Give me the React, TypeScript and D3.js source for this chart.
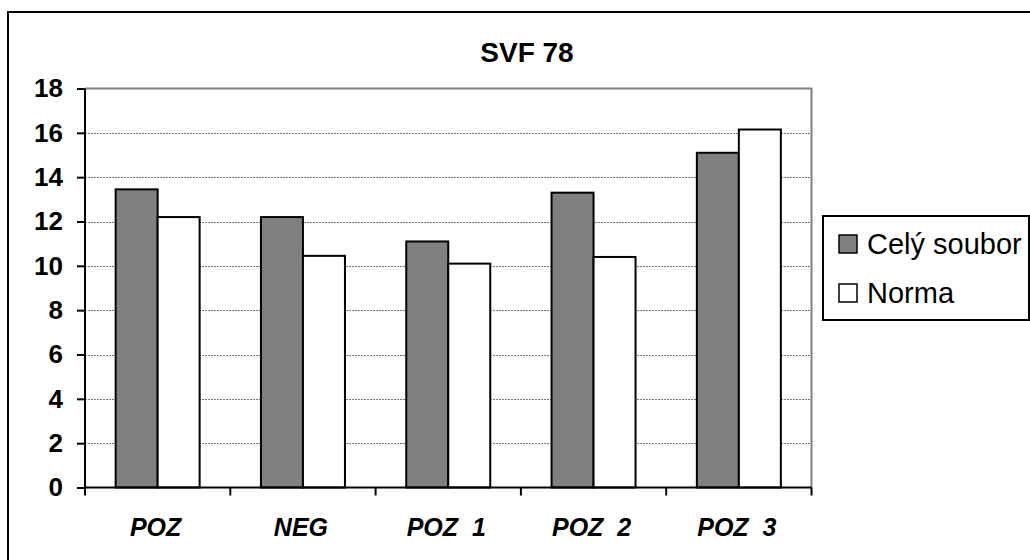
import { useEffect, useRef } from "react"
import * as d3 from "d3"

const categories = ["POZ", "NEG", "POZ 1", "POZ 2", "POZ 3"]
const seriesNames = ["Celý soubor", "Norma"]
const celySoubor = [13.45, 12.2, 11.1, 13.3, 15.1]
const norma = [12.2, 10.45, 10.1, 10.4, 16.15]
const seriesFill = ["#808080", "#ffffff"]
const yTicks = [0, 2, 4, 6, 8, 10, 12, 14, 16, 18]
const title = "SVF 78"

export default function App() {
    const ref = useRef<SVGSVGElement | null>(null)

    useEffect(() => {
        const svg = d3.select(ref.current)
        svg.selectAll("*").remove()

        const font = "Liberation Sans, Arial, sans-serif"
        const left = 85
        const right = 811.5
        const top = 88.5
        const bottom = 487.5

        // outer frame, runs off the right and bottom edges
        svg.append("rect")
            .attr("x", 8)
            .attr("y", 12)
            .attr("width", 1100)
            .attr("height", 700)
            .attr("fill", "#fff")
            .attr("stroke", "#000")
            .attr("stroke-width", 2)

        svg.append("text")
            .attr("x", 527)
            .attr("y", 62)
            .attr("text-anchor", "middle")
            .attr("font-family", font)
            .attr("font-weight", "bold")
            .attr("font-size", 28)
            .text(title)

        const x = d3.scaleBand<string>()
            .domain(categories)
            .range([left, right])

        const xInner = d3.scaleBand<string>()
            .domain(seriesNames)
            .range([0, x.bandwidth()])
            .paddingInner(0)
            .paddingOuter(0.73)

        const y = d3.scaleLinear()
            .domain([0, 18])
            .range([bottom, top])

        // gridlines
        svg.append("g")
            .selectAll("line")
            .data(yTicks.filter(t => t > 0 && t < 18))
            .join("line")
            .attr("x1", left)
            .attr("x2", right)
            .attr("y1", d => Math.round(y(d)) + 0.5)
            .attr("y2", d => Math.round(y(d)) + 0.5)
            .attr("stroke", "#777")
            .attr("stroke-width", 1)
            .attr("stroke-dasharray", "2,1")

        // plot area border top + right
        svg.append("path")
            .attr("d", `M${left},${y(18)}H${right}V${bottom}`)
            .attr("fill", "none")
            .attr("stroke", "#808080")
            .attr("stroke-width", 2)

        const seriesData = [celySoubor, norma]
        seriesNames.forEach((name, si) => {
            svg.append("g")
                .selectAll("rect")
                .data(categories)
                .join("rect")
                .attr("x", c => (x(c) ?? 0) + (xInner(name) ?? 0))
                .attr("y", (c, i) => y(seriesData[si][i]))
                .attr("width", xInner.bandwidth())
                .attr("height", (c, i) => bottom - y(seriesData[si][i]))
                .attr("fill", seriesFill[si])
                .attr("stroke", "#000")
                .attr("stroke-width", 2)
        })

        // y axis
        const yAxis = svg.append("g")
            .attr("transform", `translate(${left},0)`)
            .call(d3.axisLeft(y).tickValues(yTicks).tickSize(8).tickPadding(14))
        yAxis.select(".domain").attr("stroke", "#000").attr("stroke-width", 2)
            .attr("d", `M0,${y(18)}V${bottom + 7}`)
        yAxis.selectAll(".tick line").attr("stroke", "#000").attr("stroke-width", 2)
        yAxis.selectAll(".tick text")
            .attr("font-family", font)
            .attr("font-weight", "bold")
            .attr("font-size", 26)
            .attr("fill", "#000")

        // x axis
        const xAxis = svg.append("g")
            .attr("transform", `translate(0,${bottom})`)
        xAxis.append("path")
            .attr("d", `M${left},0H${right}`)
            .attr("stroke", "#000")
            .attr("stroke-width", 2)
        xAxis.selectAll("line")
            .data([...categories.map(c => x(c) ?? 0), right])
            .join("line")
            .attr("x1", d => d)
            .attr("x2", d => d)
            .attr("y1", 0)
            .attr("y2", 8)
            .attr("stroke", "#000")
            .attr("stroke-width", 2)
        xAxis.selectAll("text")
            .data(categories)
            .join("text")
            .attr("x", c => (x(c) ?? 0) + x.bandwidth() / 2 - 2)
            .attr("y", 48)
            .attr("text-anchor", "middle")
            .attr("font-family", font)
            .attr("font-weight", "bold")
            .attr("font-style", "italic")
            .attr("font-size", 25)
            .attr("xml:space", "preserve")
            .text(c => c.replace(" ", "  "))

        // legend
        const legend = svg.append("g")
        legend.append("rect")
            .attr("x", 823)
            .attr("y", 216)
            .attr("width", 206)
            .attr("height", 104)
            .attr("fill", "#fff")
            .attr("stroke", "#000")
            .attr("stroke-width", 2)
        const legendY = d3.scalePoint<string>()
            .domain(seriesNames)
            .range([244, 293])
        seriesNames.forEach((name, i) => {
            const cy = legendY(name) ?? 0
            legend.append("rect")
                .attr("x", 839)
                .attr("y", cy - 9)
                .attr("width", 18)
                .attr("height", 18)
                .attr("fill", seriesFill[i])
                .attr("stroke", "#000")
                .attr("stroke-width", 1.5)
            legend.append("text")
                .attr("x", 867)
                .attr("y", cy + 10)
                .attr("font-family", font)
                .attr("font-size", 29)
                .text(name)
        })
    }, [])

    return (
        <svg
            ref={ref}
            width={1030}
            height={560}
            style={{ position: "absolute", left: 0, top: 0, background: "#fff" }}
        />
    )
}
